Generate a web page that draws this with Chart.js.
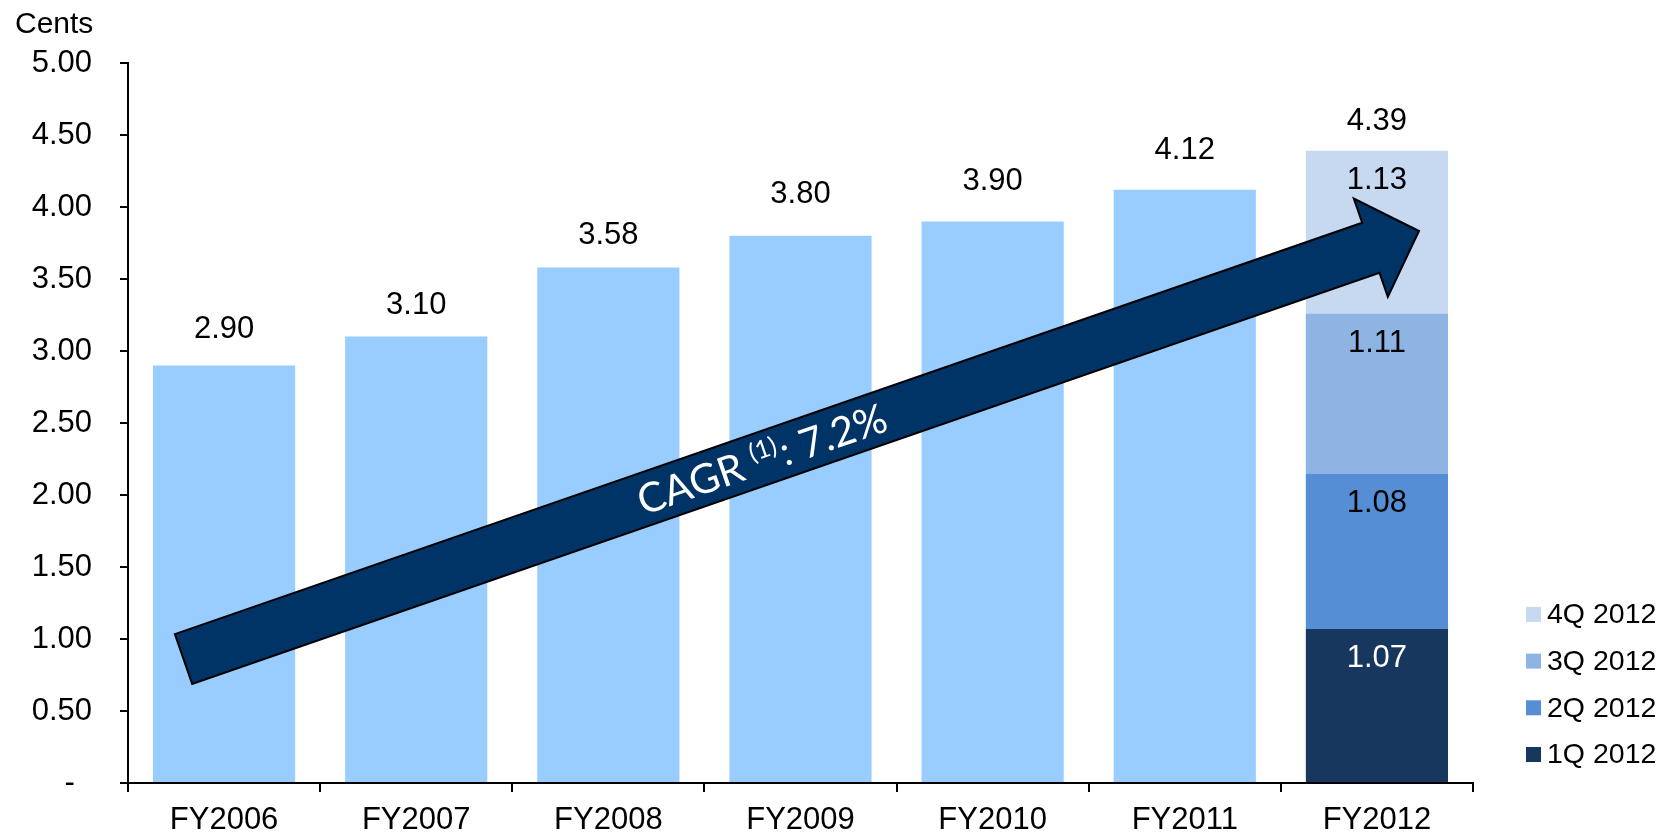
<!DOCTYPE html>
<html>
<head>
<meta charset="utf-8">
<script src="https://cdn.jsdelivr.net/npm/chart.js@4.4.0/dist/chart.umd.min.js"></script>
<style>
  html, body { margin: 0; padding: 0; background: #fff; }
  canvas { display: block; }
</style>
</head>
<body>
<canvas id="chart" width="1666" height="837"></canvas>
<script>
// Dividend per share, cents
const categories = ['FY2006', 'FY2007', 'FY2008', 'FY2009', 'FY2010', 'FY2011', 'FY2012'];
const annualValues = [2.90, 3.10, 3.58, 3.80, 3.90, 4.12, null];
const quarterLabels = ['1Q 2012', '2Q 2012', '3Q 2012', '4Q 2012'];
const quarterValues = [1.07, 1.08, 1.11, 1.13];
const yTickLabels = ['-  ', '0.50', '1.00', '1.50', '2.00', '2.50', '3.00', '3.50', '4.00', '4.50', '5.00'];
const unitLabel = 'Cents';
const cagrParts = ['CAGR ', '(1)', ': 7.2%'];

// Growth arrow ends, given as (category index, value)
const arrowFrom = [-0.211, 0.861];
const arrowTo = [6.219, 3.833];

// gap (px) between each annual bar top and its value label
const annualLabelGap = [36, 31, 32, 41, 40, 39];

const annualColor = '#99CCFF';
const quarterColors = ['#17375E', '#558ED5', '#8EB4E3', '#C6D9F1'];
const quarterTextColors = ['#FFFFFF', '#000000', '#000000', '#000000'];
const FONT = '"Liberation Sans", Arial, sans-serif';

const lastIdx = categories.length - 1;
const datasets = [{
  label: 'Annual',
  data: annualValues,
  backgroundColor: annualColor,
  stack: 'dps'
}];
quarterValues.forEach((v, i) => {
  datasets.push({
    label: quarterLabels[i],
    data: categories.map((c, j) => (j === lastIdx ? v : null)),
    backgroundColor: quarterColors[i],
    stack: 'dps'
  });
});

const decorations = {
  id: 'decorations',
  afterDatasetsDraw(chart) {
    const ctx = chart.ctx;
    const xs = chart.scales.x, ys = chart.scales.y;

    // --- growth arrow ---
    const T = { x: xs.getPixelForValue(arrowFrom[0]), y: ys.getPixelForValue(arrowFrom[1]) };
    const P = { x: xs.getPixelForValue(arrowTo[0]), y: ys.getPixelForValue(arrowTo[1]) };
    const dx = P.x - T.x, dy = P.y - T.y;
    const len = Math.hypot(dx, dy);
    const u = { x: dx / len, y: dy / len };
    const n = { x: -u.y, y: u.x };
    const shaftHalf = 26.4, headHalf = 52, headLen = 51;
    const J = { x: P.x - u.x * headLen, y: P.y - u.y * headLen };
    const pt = (b, k) => [b.x + n.x * k, b.y + n.y * k];
    const poly = [pt(T, -shaftHalf), pt(J, -shaftHalf), pt(J, -headHalf), [P.x, P.y],
                  pt(J, headHalf), pt(J, shaftHalf), pt(T, shaftHalf)];
    ctx.save();
    ctx.beginPath();
    poly.forEach((p, i) => (i ? ctx.lineTo(p[0], p[1]) : ctx.moveTo(p[0], p[1])));
    ctx.closePath();
    ctx.fillStyle = '#003366';
    ctx.fill();
    ctx.lineWidth = 2;
    ctx.lineJoin = 'miter';
    ctx.strokeStyle = '#000000';
    ctx.stroke();

    // caption along the arrow
    const big = 41, small = 25;
    const bigFont = big + 'px Lato, "Open Sans", sans-serif';
    const smallFont = small + 'px Lato, "Open Sans", sans-serif';
    ctx.font = bigFont;
    const w1 = ctx.measureText(cagrParts[0]).width;
    const w3 = ctx.measureText(cagrParts[2]).width;
    ctx.font = smallFont;
    const w2 = ctx.measureText(cagrParts[1]).width + 2;
    const total = w1 + w2 + w3;
    const along = 612;
    ctx.translate(T.x + u.x * along, T.y + u.y * along);
    ctx.rotate(Math.atan2(u.y, u.x));
    ctx.fillStyle = '#FFFFFF';
    ctx.textAlign = 'left';
    ctx.textBaseline = 'alphabetic';
    const base = big * 0.36;
    let cx = -total / 2;
    ctx.font = bigFont;
    ctx.fillText(cagrParts[0], cx, base); cx += w1;
    ctx.font = smallFont;
    ctx.fillText(cagrParts[1], cx, base - big * 0.36); cx += w2;
    ctx.font = bigFont;
    ctx.fillText(cagrParts[2], cx, base);
    ctx.restore();

    // --- value labels ---
    ctx.save();
    ctx.font = '31px ' + FONT;
    ctx.textAlign = 'center';
    ctx.textBaseline = 'middle';
    ctx.fillStyle = '#000000';
    chart.getDatasetMeta(0).data.forEach((bar, i) => {
      if (annualValues[i] == null) return;
      ctx.fillText(annualValues[i].toFixed(2), bar.x, bar.y - annualLabelGap[i]);
    });
    quarterValues.forEach((v, i) => {
      const bar = chart.getDatasetMeta(i + 1).data[lastIdx];
      ctx.fillStyle = quarterTextColors[i];
      ctx.fillText(v.toFixed(2), bar.x, bar.y + 30);
    });
    const topBar = chart.getDatasetMeta(quarterValues.length).data[lastIdx];
    const sum = quarterValues.reduce((a, b) => a + b, 0);
    ctx.fillStyle = '#000000';
    ctx.fillText(sum.toFixed(2), topBar.x, topBar.y - 29);

    // --- unit label ---
    ctx.font = '30px ' + FONT;
    ctx.textAlign = 'left';
    ctx.textBaseline = 'alphabetic';
    ctx.fillText(unitLabel, 15, 33);

    // --- legend (4Q on top) ---
    ctx.font = '28.5px ' + FONT;
    ctx.textBaseline = 'middle';
    const lx = chart.chartArea.right + 53;
    const rowGap = 46.7;
    const bottomRow = chart.chartArea.bottom - 28.5;
    for (let i = 0; i < quarterLabels.length; i++) {
      const yy = bottomRow - i * rowGap;
      ctx.fillStyle = quarterColors[i];
      ctx.fillRect(lx, yy - 7.5, 15, 15);
      ctx.fillStyle = '#000000';
      ctx.fillText(quarterLabels[i], lx + 21, yy + 1);
    }
    ctx.restore();
  }
};

Chart.defaults.color = '#000000';
Chart.defaults.font.family = FONT;

new Chart(document.getElementById('chart'), {
  type: 'bar',
  data: { labels: categories, datasets },
  options: {
    responsive: false,
    animation: false,
    devicePixelRatio: 1,
    layout: { padding: { top: 63, right: 193, bottom: 0, left: 0 } },
    datasets: { bar: { barPercentage: 0.74, categoryPercentage: 1.0, borderWidth: 0 } },
    plugins: { legend: { display: false }, tooltip: { enabled: false }, title: { display: false } },
    scales: {
      x: {
        stacked: true,
        afterFit(scale) { scale.height = 54; },
        grid: { display: true, drawOnChartArea: false, offset: true, tickLength: 9, color: '#000000', lineWidth: 2 },
        border: { display: true, color: '#000000', width: 2 },
        ticks: { padding: 9.5, font: { size: 31 }, color: '#000000', maxRotation: 0 }
      },
      y: {
        stacked: true,
        min: 0,
        max: 5,
        afterFit(scale) { scale.width = 128; },
        grid: { display: true, drawOnChartArea: false, tickLength: 8, color: '#000000', lineWidth: 2 },
        border: { display: true, color: '#000000', width: 2 },
        ticks: {
          stepSize: 0.5,
          padding: 28,
          font: { size: 31 },
          color: '#000000',
          callback: (value, index) => yTickLabels[index]
        }
      }
    }
  },
  plugins: [decorations]
});
</script>
</body>
</html>
